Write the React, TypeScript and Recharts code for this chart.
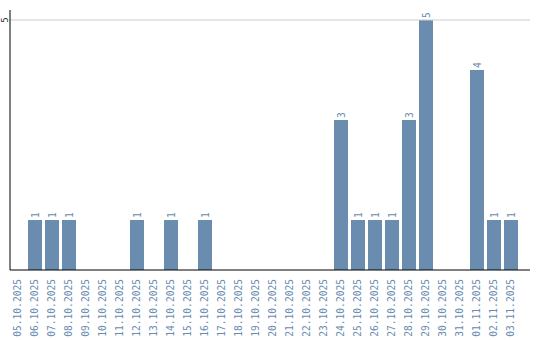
import { BarChart, Bar, XAxis, YAxis, ReferenceLine, LabelList } from 'recharts';

const dates = [
  '05.10.2025', '06.10.2025', '07.10.2025', '08.10.2025', '09.10.2025', '10.10.2025',
  '11.10.2025', '12.10.2025', '13.10.2025', '14.10.2025', '15.10.2025', '16.10.2025',
  '17.10.2025', '18.10.2025', '19.10.2025', '20.10.2025', '21.10.2025', '22.10.2025',
  '23.10.2025', '24.10.2025', '25.10.2025', '26.10.2025', '27.10.2025', '28.10.2025',
  '29.10.2025', '30.10.2025', '31.10.2025', '01.11.2025', '02.11.2025', '03.11.2025',
];
const counts = [0, 1, 1, 1, 0, 0, 0, 1, 0, 1, 0, 1, 0, 0, 0, 0, 0, 0, 0, 3, 1, 1, 1, 3, 5, 0, 0, 4, 1, 1];
const yTicks = [5];

const data = dates.map((date, i) => ({ date, count: counts[i] }));

const BAR = '#6a8caf';
const TEXT = '#6a8caf';
const FONT = '"DejaVu Sans Mono", monospace';

const DateTick = ({ x, y, payload }: any) => (
  <text
    x={x + 3}
    y={y + 7}
    transform={`rotate(-90, ${x + 3}, ${y + 7})`}
    textAnchor="end"
    fontFamily={FONT}
    fontSize={9.6}
    fill={TEXT}
  >
    {payload.value}
  </text>
);

const YTick = ({ y, payload }: any) => (
  <text
    x={8}
    y={y}
    transform={`rotate(-90, 8, ${y})`}
    textAnchor="middle"
    fontFamily={FONT}
    fontSize={8.5}
    fill="#222"
  >
    {payload.value}
  </text>
);

const ValueLabel = ({ x, y, width, value }: any) => {
  if (!value) return null;
  const cx = x + width / 2 + 3.5;
  const ty = y - 2;
  return (
    <text
      x={cx}
      y={ty}
      transform={`rotate(-90, ${cx}, ${ty})`}
      textAnchor="start"
      fontFamily={FONT}
      fontSize={9.6}
      fill={TEXT}
    >
      {value}
    </text>
  );
};

export default function App() {
  return (
    <div style={{ width: 540, height: 340 }}>
      <style>{'body{margin:0}'}</style>
      <BarChart width={540} height={340} data={data} margin={{ top: 10, right: 10, left: 0, bottom: 0 }}>
        <ReferenceLine y={5} stroke="#cccccc" />
        <XAxis
          dataKey="date"
          interval={0}
          height={70}
          padding={{ left: -1, right: 11 }}
          tickLine={false}
          tickSize={0}
          tick={<DateTick />}
          axisLine={{ stroke: '#000' }}
        />
        <YAxis
          width={10}
          domain={[0, 5.2]}
          ticks={yTicks}
          tickLine={false}
          tick={<YTick />}
          axisLine={{ stroke: '#000' }}
        />
        <Bar dataKey="count" fill={BAR} barSize={14} isAnimationActive={false}>
          <LabelList dataKey="count" content={<ValueLabel />} />
        </Bar>
      </BarChart>
    </div>
  );
}
